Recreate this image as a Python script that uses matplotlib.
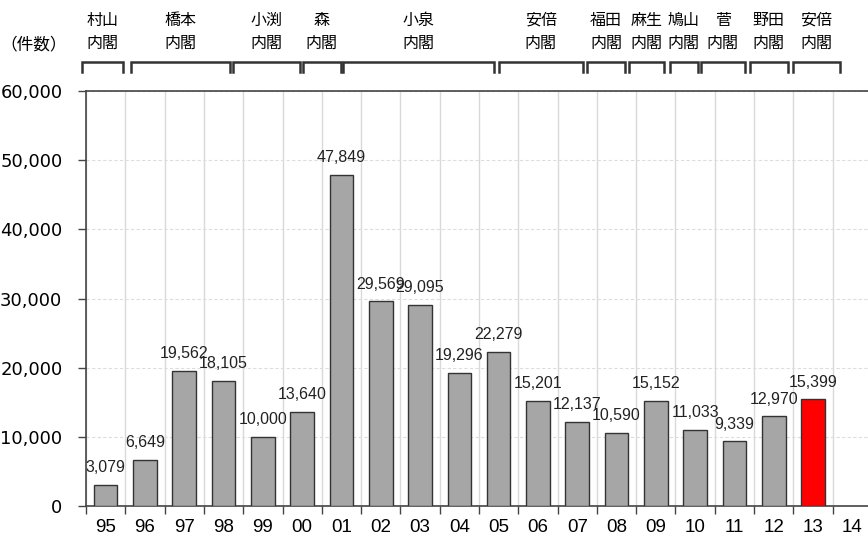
import matplotlib
matplotlib.use('Agg')
import matplotlib.pyplot as plt
import matplotlib.transforms as mtransforms
import numpy as np

plt.rcParams['font.family'] = ['Noto Sans CJK JP', 'DejaVu Sans']

# --- data ---
years = ['95', '96', '97', '98', '99', '00', '01', '02', '03', '04',
         '05', '06', '07', '08', '09', '10', '11', '12', '13', '14']
counts = [3079, 6649, 19562, 18105, 10000, 13640, 47849, 29569, 29095, 19296,
          22279, 15201, 12137, 10590, 15152, 11033, 9339, 12970, 15399, None]
highlight = '13'

# cabinets: name and span (in category units, 95 = 0)
cabinets = ['村山', '橋本', '小渕', '森', '小泉', '安倍',
            '福田', '麻生', '鳩山', '菅', '野田', '安倍']
cab_start = [-0.6, 0.64, 3.23, 5.01, 6.03, 10.0, 12.26, 13.31, 14.35, 15.14, 16.39, 17.48]
cab_end = [0.45, 3.16, 4.94, 5.98, 9.87, 12.14, 13.21, 14.22, 15.06, 16.26, 17.35, 18.68]

fig = plt.figure(figsize=(8.68, 5.35), dpi=100)
ax = fig.add_axes([0.0991, 0.0542, 0.9055, 0.7757])

x = np.arange(len(years))
for i, (yr, v) in enumerate(zip(years, counts)):
    if v is None:
        continue
    color = '#ff0000' if yr == highlight else '#a6a6a6'
    ax.bar(i, v, width=0.6, color=color, edgecolor='#333333', linewidth=1.0, zorder=3)
    ax.annotate(f'{v:,}', (i, v), xytext=(0, 7), textcoords='offset points',
                ha='center', va='bottom', fontsize=11.5, color='#222222',
                family='Liberation Sans', zorder=4)

ax.set_xlim(-0.5, len(years) - 0.5)
ax.set_ylim(0, 60000)
ax.set_yticks(np.arange(0, 60001, 10000))
ax.set_yticklabels([f'{t:,}' for t in range(0, 60001, 10000)],
                   family='DejaVu Sans', fontsize=13)
ax.tick_params(axis='y', direction='out', length=6, width=1, color='#444444', pad=11)

# ticks at category boundaries, labels at centers
ax.set_xticks(np.arange(-0.5, len(years), 1.0))
ax.set_xticklabels([])
ax.set_xticks(x, minor=True)
ax.set_xticklabels(years, minor=True, family='Liberation Sans', fontsize=13.5)
ax.tick_params(axis='x', which='major', direction='out', length=6, width=1, color='#444444')
ax.tick_params(axis='x', which='minor', length=0, pad=9)

ax.grid(axis='x', which='major', color='#d9d9d9', linewidth=1.0, zorder=0)
ax.grid(axis='y', color='#dddddd', linestyle=(0, (3, 2)), linewidth=0.8, zorder=0)
ax.set_axisbelow(True)

for side in ['left', 'bottom', 'top']:
    ax.spines[side].set_color('#444444')
    ax.spines[side].set_linewidth(1.2)
ax.spines['right'].set_visible(False)

# cabinet brackets above the plot
trans = mtransforms.blended_transform_factory(ax.transData, ax.transAxes)
y_top, y_bot = 1.0699, 1.0458
for name, s, e in zip(cabinets, cab_start, cab_end):
    ax.plot([s, s, e, e], [y_bot, y_top, y_top, y_bot], transform=trans,
            color='#333333', linewidth=1.8, clip_on=False, solid_joinstyle='miter')
    mid = (s + e) / 2
    ax.text(mid, 1.171, name, transform=trans, ha='center', va='center', fontsize=11.5)
    ax.text(mid, 1.116, '内閣', transform=trans, ha='center', va='center', fontsize=11.5)

fig.text(34 / 868, 1 - 45 / 535, '（件数）', ha='center', va='center', fontsize=12)

fig.savefig('out.png', dpi=100)
